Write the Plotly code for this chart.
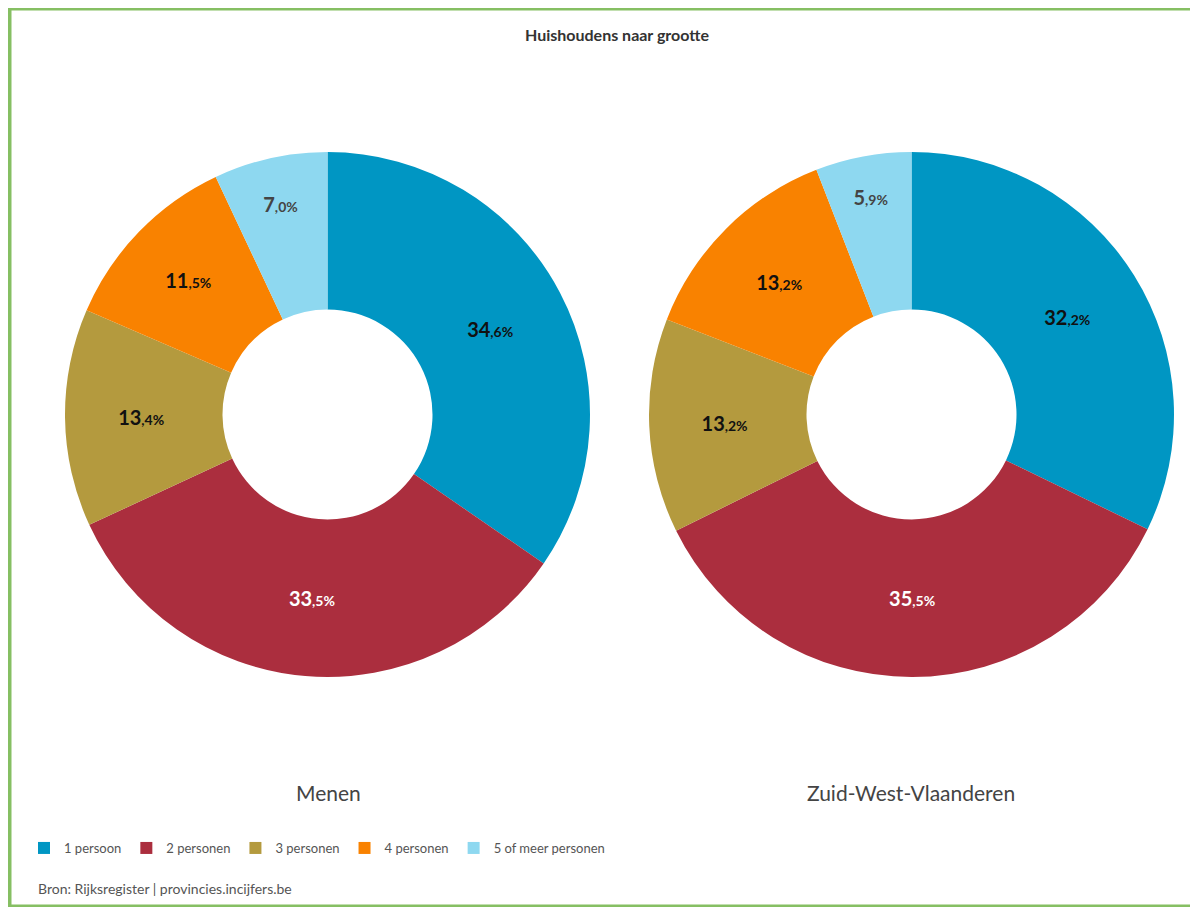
import plotly.graph_objects as go

categories = ["1 persoon", "2 personen", "3 personen", "4 personen", "5 of meer personen"]
menen = [34.6, 33.5, 13.4, 11.5, 7.0]
zwv = [32.2, 35.5, 13.2, 13.2, 5.9]
regions = ["Menen", "Zuid-West-Vlaanderen"]

colors = ["#0096c3", "#ab2e3e", "#b49a3e", "#f98200", "#8ed8f0"]
label_colors = ["#111111", "#ffffff", "#111111", "#111111", "#444444"]

W, H = 1203, 907
PAGE_OFFSET = 8  # body margin of the html page
FONT = "Lato, 'Open Sans', sans-serif"
FRAME = "#86bf63"


def px_x(v):
    return (v - PAGE_OFFSET) / W


def px_y(v):
    return 1 - (v - PAGE_OFFSET) / H


def slice_labels(values):
    out = []
    for v in values:
        whole, dec = f"{v:.1f}".split(".")
        out.append(f"<b>{whole}<span style='font-size:14px'>,{dec}%</span></b>")
    return out


fig = go.Figure()

domains = [(65, 590), (649, 1174)]
for region, values, (x0, x1) in zip(regions, [menen, zwv], domains):
    fig.add_trace(
        go.Pie(
            labels=categories,
            values=values,
            text=slice_labels(values),
            textinfo="text",
            textposition="inside",
            insidetextorientation="horizontal",
            textfont={"size": 20, "family": FONT, "color": label_colors},
            marker={"colors": colors, "line": {"width": 0}},
            hole=0.4,
            sort=False,
            direction="clockwise",
            rotation=0,
            domain={"x": [px_x(x0), px_x(x1)], "y": [px_y(677), px_y(152)]},
            hoverinfo="none",
            name=region,
        )
    )

annotations = [
    {"text": "<b>Huishoudens naar grootte</b>", "x": px_x(617), "y": px_y(35),
     "font": {"size": 16, "color": "#333333"}},
    {"text": regions[0], "x": px_x(328), "y": px_y(792), "font": {"size": 21, "color": "#444444"}},
    {"text": regions[1], "x": px_x(911), "y": px_y(792), "font": {"size": 21, "color": "#444444"}},
    {"text": "Bron: Rijksregister | provincies.incijfers.be", "x": px_x(36), "y": px_y(888),
     "xanchor": "left", "font": {"size": 14, "color": "#555555"}},
]
for a in annotations:
    a.setdefault("xanchor", "center")
    a.update({"xref": "paper", "yref": "paper", "yanchor": "middle", "showarrow": False})

# green frame: top, left and bottom sides only
frame = [
    (px_x(8), px_y(8.5), px_x(1190), px_y(8.5), 4),      # top
    (px_x(9.5), px_y(8), px_x(9.5), px_y(908), 4),       # left
    (px_x(8), px_y(906), px_x(1190), px_y(906), 3),      # bottom
]
shapes = [
    {"type": "line", "xref": "paper", "yref": "paper", "x0": a, "y0": b, "x1": c, "y1": d,
     "line": {"color": FRAME, "width": w}}
    for a, b, c, d, w in frame
]

fig.update_layout(
    width=W,
    height=H,
    margin={"l": 0, "r": 0, "t": 0, "b": 0},
    paper_bgcolor="white",
    plot_bgcolor="white",
    font={"family": FONT, "color": "#444444"},
    showlegend=True,
    legend={
        "orientation": "h",
        "x": px_x(24),
        "y": px_y(848),
        "xanchor": "left",
        "yanchor": "middle",
        "font": {"size": 13, "color": "#555555"},
        "traceorder": "normal",
    },
    annotations=annotations,
    shapes=shapes,
)

fig.write_html("out.html")
